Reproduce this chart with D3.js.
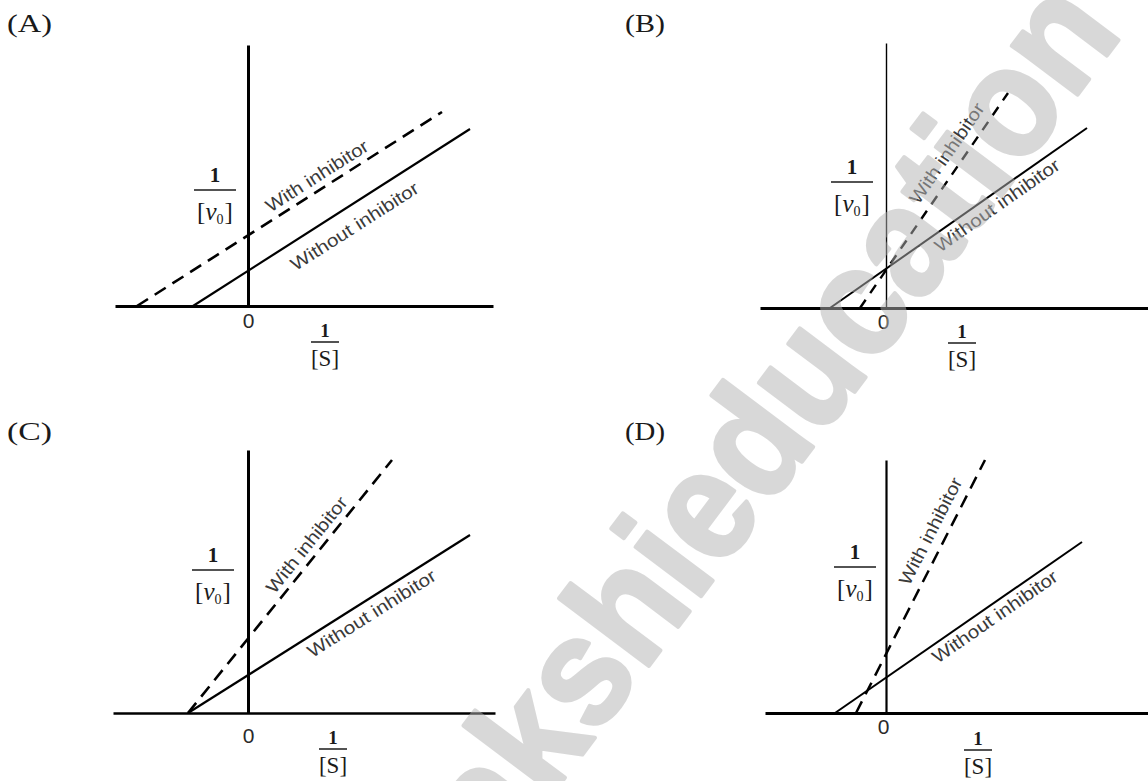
<!DOCTYPE html>
<html><head><meta charset="utf-8">
<script src="https://cdn.jsdelivr.net/npm/d3@7"></script>
<style>body{margin:0;background:#fff;} svg{display:block}</style>
</head><body>
<svg id="c" width="1148" height="781"></svg>
<script>
// ---------- data ----------
const panelLabels = ["(A)", "(B)", "(C)", "(D)"];
const xDomains = [[-2.66, 4.9], [-2.52, 5.28], [-2.7, 4.94], [-2.42, 5.28]];
const yDomains = [[0, 5.22], [0, 5.3], [0, 5.26], [0, 5.06]];
// line end points [1/[S], 1/v0]
const withoutInhibitor = [
  [[-1.1, 0], [4.44, 3.54]],
  [[-1.12, 0], [4.02, 3.6]],
  [[-1.2, 0], [4.44, 3.56]],
  [[-1.02, 0], [3.92, 3.42]]
];
const withInhibitor = [
  [[-2.22, 0], [3.88, 3.88]],
  [[-0.52, 0], [2.44, 4.3]],
  [[-1.2, 0], [2.88, 5.06]],
  [[-0.6, 0], [1.98, 5.06]]
];
const xTickValues = [0];
const seriesNames = ["With inhibitor", "Without inhibitor"];
const xTitle = { num: "1", den: "[S]" };
const yTitle = { num: "1", den: ["[", "v", "0", "]"] };
const watermarkText = "akshieducation";

// ---------- layout ----------
const frames = [
  { xr: [115, 493], yr: [306, 45], lab: [7, 32], labW: 45, yw: 3, xw: 3, sw: 2.2, dw: 2.6, dash: "13,8", zp: 7, zdx: 0,
    st: [77, 36], vt: [-33, -116], wl: [0.613, 13], wol: [0.545, -20] },
  { xr: [760, 1150], yr: [308, 43], lab: [625, 32], labW: 40, yw: 1.4, xw: 3, sw: 2, dw: 2.4, dash: "10,8", zp: 6, zdx: -3,
    st: [76, 35], vt: [-34, -126], wl: [0.677, 16], wol: [0.624, -12] },
  { xr: [113, 495], yr: [713, 450], lab: [7, 440], labW: 45, yw: 3, xw: 2.6, sw: 2.2, dw: 2.6, dash: "13,8", zp: 15, zdx: 0,
    st: [85, 36], vt: [-35, -143], wl: [0.632, 13], wol: [0.625, -14] },
  { xr: [765, 1150], yr: [713, 460], lab: [625, 440], labW: 40, yw: 2.2, xw: 3, sw: 2, dw: 2.5, dash: "13,8", zp: 6, zdx: -3,
    st: [92, 37], vt: [-31, -146], wl: [0.69, 16], wol: [0.62, -12] }
];
const labelLen = [118, 148];

const svg = d3.select("#c");
const serif = "'Liberation Serif', 'DejaVu Serif', serif";
const sans = "'Liberation Sans', Arial, sans-serif";

frames.forEach((f, i) => {
  const x = d3.scaleLinear().domain(xDomains[i]).range(f.xr);
  const y = d3.scaleLinear().domain(yDomains[i]).range(f.yr);
  const g = svg.append("g");
  const ox = x(0), oy = y(0);

  // panel label
  g.append("text").attr("x", f.lab[0]).attr("y", f.lab[1])
    .attr("font-family", serif).attr("font-size", 26).attr("fill", "#1a1a1a")
    .attr("textLength", f.labW).attr("lengthAdjust", "spacingAndGlyphs")
    .text(panelLabels[i]);

  // x axis
  const xa = g.append("g").attr("transform", `translate(0,${oy})`)
    .call(d3.axisBottom(x).tickValues(xTickValues).tickSize(0).tickSizeOuter(0).tickPadding(f.zp).tickFormat(d3.format("d")));
  xa.select(".domain").attr("stroke", "#000").attr("stroke-width", f.xw);
  xa.selectAll(".tick text").attr("font-family", sans).attr("font-size", 21).attr("fill", "#2a2a2a").attr("dx", f.zdx);

  // y axis
  const ya = g.append("g").attr("transform", `translate(${ox},0)`)
    .call(d3.axisLeft(y).tickValues([]).tickSizeOuter(0));
  ya.select(".domain").attr("stroke", "#000").attr("stroke-width", f.yw);

  // lines
  const line = d3.line().x(d => x(d[0])).y(d => y(d[1]));
  g.append("path").attr("d", line(withoutInhibitor[i])).attr("fill", "none")
    .attr("stroke", "#000").attr("stroke-width", f.sw);
  g.append("path").attr("d", line(withInhibitor[i])).attr("fill", "none")
    .attr("stroke", "#000").attr("stroke-width", f.dw).attr("stroke-dasharray", f.dash);

  // line labels
  [[withInhibitor[i], f.wl, 0], [withoutInhibitor[i], f.wol, 1]].forEach(([pts, p, k]) => {
    const x1 = x(pts[0][0]), y1 = y(pts[0][1]), x2 = x(pts[1][0]), y2 = y(pts[1][1]);
    const len = Math.hypot(x2 - x1, y2 - y1);
    const ux = (x2 - x1) / len, uy = (y2 - y1) / len;
    const nx = uy, ny = -ux;
    const cx = x1 + (x2 - x1) * p[0] + nx * p[1];
    const cy = y1 + (y2 - y1) * p[0] + ny * p[1];
    const ang = Math.atan2(y2 - y1, x2 - x1) * 180 / Math.PI;
    g.append("text").attr("transform", `translate(${cx},${cy}) rotate(${ang})`)
      .attr("text-anchor", "middle").attr("dominant-baseline", "central")
      .attr("font-family", sans).attr("font-size", 18).attr("fill", "#3a3a3a")
      .attr("textLength", labelLen[k]).attr("lengthAdjust", "spacingAndGlyphs")
      .text(seriesNames[k]);
  });

  // x title 1/[S]
  const sx = ox + f.st[0], sl = oy + f.st[1];
  g.append("text").attr("x", sx).attr("y", sl - 12).attr("text-anchor", "middle").attr("dominant-baseline", "central")
    .attr("font-family", serif).attr("font-size", 19).attr("font-weight", "bold").attr("fill", "#1a1a1a").text(xTitle.num);
  g.append("line").attr("x1", sx - 14).attr("x2", sx + 14).attr("y1", sl).attr("y2", sl)
    .attr("stroke", "#1a1a1a").attr("stroke-width", 1.5);
  g.append("text").attr("x", sx).attr("y", sl + 16).attr("text-anchor", "middle").attr("dominant-baseline", "central")
    .attr("font-family", serif).attr("font-size", 23).attr("fill", "#1a1a1a").text(xTitle.den);

  // y title 1/[v0]
  const vx = ox + f.vt[0], vl = oy + f.vt[1];
  g.append("text").attr("x", vx).attr("y", vl - 15).attr("text-anchor", "middle").attr("dominant-baseline", "central")
    .attr("font-family", serif).attr("font-size", 21).attr("font-weight", "bold").attr("fill", "#1a1a1a").text(yTitle.num);
  g.append("line").attr("x1", vx - 21).attr("x2", vx + 21).attr("y1", vl).attr("y2", vl)
    .attr("stroke", "#1a1a1a").attr("stroke-width", 1.6);
  const vt = g.append("text").attr("x", vx).attr("y", vl + 30).attr("text-anchor", "middle")
    .attr("font-family", serif).attr("font-size", 25).attr("fill", "#1a1a1a");
  vt.append("tspan").text(yTitle.den[0]);
  vt.append("tspan").attr("font-style", "italic").text(yTitle.den[1]);
  vt.append("tspan").attr("font-size", 14).attr("dy", 4).text(yTitle.den[2]);
  vt.append("tspan").attr("dy", -4).attr("dx", 1).text(yTitle.den[3]);
});

// watermark
svg.append("text").attr("transform", "translate(1124,33) rotate(-53.1)")
  .attr("text-anchor", "end").attr("font-family", sans).attr("font-weight", "bold")
  .attr("font-size", 155).attr("fill", "#b3b3b3").attr("stroke", "#b3b3b3").attr("stroke-width", 4)
  .attr("stroke-linejoin", "round").attr("opacity", 0.5)
  .attr("textLength", 1040).attr("lengthAdjust", "spacingAndGlyphs")
  .text(watermarkText);
</script>
</body></html>
